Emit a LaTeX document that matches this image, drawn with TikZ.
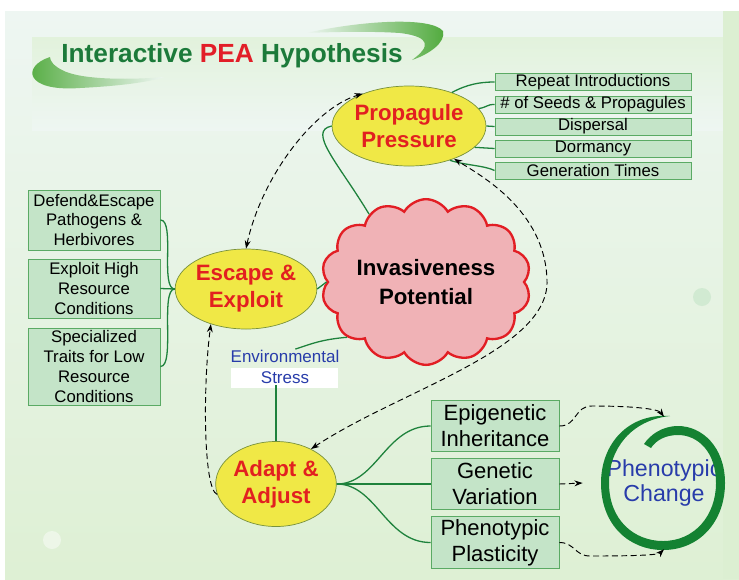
\documentclass[tikz,border=0pt]{standalone}
\usepackage{fontspec}
\setmainfont{Liberation Sans}
\usetikzlibrary{shapes.geometric,shapes.symbols,arrows.meta,positioning}

\definecolor{bgtop}{RGB}{238,246,242}
\definecolor{bgbot}{RGB}{222,240,212}
\definecolor{bgband}{RGB}{226,242,220}
\definecolor{bgstrip}{RGB}{220,239,210}
\definecolor{titlegreen}{RGB}{28,122,58}
\definecolor{titlered}{RGB}{226,30,40}
\definecolor{swoosh}{RGB}{80,170,60}
\definecolor{hubfill}{RGB}{240,232,70}
\definecolor{hubline}{RGB}{120,145,60}
\definecolor{hubtext}{RGB}{226,32,32}
\definecolor{leaffill}{RGB}{196,228,200}
\definecolor{leafline}{RGB}{90,170,100}
\definecolor{twig}{RGB}{30,130,60}
\definecolor{cloudfill}{RGB}{240,178,182}
\definecolor{cloudline}{RGB}{226,30,36}
\definecolor{bluetext}{RGB}{40,60,170}
\definecolor{swirl}{RGB}{20,130,50}

\begin{document}
\begin{tikzpicture}[x=0.03cm,y=-0.03cm,>={Stealth[length=7pt,width=5pt]},
  hub/.style={ellipse,draw=hubline,fill=hubfill,line width=0.6pt,inner sep=0pt,
    text=hubtext,align=center,font=\bfseries\fontsize{19}{23}\selectfont},
  leaf/.style={rectangle,draw=leafline,fill=leaffill,line width=0.8pt,inner sep=0pt,align=center},
  toprow/.style={leaf,minimum width=5.88cm,minimum height=0.51cm,font=\fontsize{14.3}{16}\selectfont},
  leftcol/.style={leaf,minimum width=3.96cm,font=\fontsize{14.3}{17}\selectfont},
  rightcol/.style={leaf,minimum width=3.84cm,minimum height=1.54cm,font=\fontsize{18.8}{22}\selectfont},
  link/.style={draw=twig,line width=1.1pt},
  hint/.style={dash pattern=on 5pt off 3pt,line width=0.8pt}]
\useasboundingbox (0,0) rectangle (739,579);

% backdrop
\fill[white] (0,0) rectangle (739,579);
\shade[top color=bgtop,bottom color=bgbot] (5,11) rectangle (739,579);
\shade[top color=bgband,bottom color=bgtop] (32,37) rectangle (723,130);
\fill[bgstrip] (723,11) rectangle (739,579);
\fill[white,opacity=0.45] (47,297) circle (8);
\fill[white,opacity=0.45] (52,540) circle (9);
\fill[leaffill,opacity=0.6] (702,297) circle (9);

% swooshes round the title
\shade[left color=swoosh,right color=bgtop] (50,57) .. controls (22,66) and (24,92) .. (80,88)
  .. controls (120,86) and (150,82) .. (164,77) .. controls (130,80) and (80,80) .. (62,70)
  .. controls (54,66) and (50,61) .. (50,57) -- cycle;
\shade[left color=bgtop,right color=swoosh] (306,33) .. controls (360,21) and (430,16) .. (443,31)
  .. controls (446,42) and (430,54) .. (412,60) .. controls (430,47) and (432,37) .. (400,33)
  .. controls (370,31) and (330,32) .. (306,33) -- cycle;
\node[font=\bfseries\fontsize{22.4}{26}\selectfont,text=titlegreen] (title) at (232,56)
  {Interactive {\color{titlered}PEA} Hypothesis};

% main hubs
\node[hub,minimum width=4.32cm,minimum height=2.4cm] (pp) at (409,126) {Propagule\\Pressure};
\node[hub,minimum width=3.81cm,minimum height=2.4cm] (ee) at (246,289) {Escape \&\\Exploit};
\node[hub,minimum width=3.51cm,minimum height=2.55cm] (aa) at (276,484) {Adapt \&\\Adjust};
\node[cloud,cloud puffs=14,cloud puff arc=120,aspect=1.36,draw=cloudline,fill=cloudfill,
  line width=2pt,inner sep=0pt,minimum width=5.55cm,minimum height=4.05cm,align=center,
  font=\bfseries\fontsize{19}{24}\selectfont] (ip) at (426,282) {Invasiveness\\Potential};

% propagule pressure factors
\node[toprow] (intro) at (593,82) {Repeat Introductions};
\node[toprow] (seeds) at (593,104.5) {\# of Seeds \& Propagules};
\node[toprow] (disp) at (593,126.5) {Dispersal};
\node[toprow] (dorm) at (593,148.5) {Dormancy};
\node[toprow] (gen) at (593,170.5) {Generation Times};

% escape and exploit factors
\node[leftcol,minimum height=1.8cm] (defend) at (94,220) {Defend\&Escape\\Pathogens \&\\Herbivores};
\node[leftcol,minimum height=1.77cm] (high) at (94,288.5) {Exploit High\\Resource\\Conditions};
\node[leftcol,minimum height=2.31cm] (low) at (94,366.5) {Specialized\\Traits for Low\\Resource\\Conditions};

% adapt and adjust factors
\node[rightcol] (epi) at (495,426) {Epigenetic\\Inheritance};
\node[rightcol] (genv) at (495,484) {Genetic\\Variation};
\node[rightcol] (plast) at (495,542.5) {Phenotypic\\Plasticity};

% environmental stress label
\fill[white] (231,368) rectangle (338,388);
\node[text=bluetext,align=center,font=\fontsize{14.5}{17.5}\selectfont,inner sep=1pt] (es) at (285,367)
  {Environmental\\Stress};

% phenotypic change and its swirl
\node[ellipse,minimum width=3.66cm,minimum height=3.96cm,inner sep=0pt,text=bluetext,
  align=center,font=\fontsize{19.8}{22}\selectfont] (ph) at (664,483) {Phenotypic\\Change};
\fill[swirl] (670,416) .. controls (628,413) and (601,444) .. (601,483)
  .. controls (601,526) and (630,550) .. (663,550) .. controls (700,550) and (725,521) .. (725,483)
  .. controls (725,447) and (702,426) .. (678,426) .. controls (662,426) and (650,435) .. (644,444)
  -- (651,448) .. controls (656,440) and (666,435) .. (678,435)
  .. controls (698,435) and (716,452) .. (716,483) .. controls (716,515) and (695,541) .. (663,541)
  .. controls (634,541) and (609,520) .. (609,483) .. controls (609,448) and (632,420) .. (670,416) -- cycle;

% green links
\draw[link] (pp.38) .. controls +(15,-8) and +(-15,0) .. (intro.west);
\draw[link] (pp.14) .. controls +(10,-2) and +(-8,0) .. (seeds.west);
\draw[link] (pp.east) -- (disp.west);
\draw[link] (pp.-18) .. controls +(10,1) and +(-10,0) .. (dorm.west);
\draw[link] (pp.-40) .. controls +(15,5) and +(-10,-5) .. (gen.west);
\draw[link] (pp.west) .. controls +(-25,5) and +(-30,-50) .. (ip.130);
\draw[link] (defend.east) .. controls +(15,0) and +(-15,0) .. (ee.west);
\draw[link] (high.east) -- (ee.west);
\draw[link] (low.east) .. controls +(15,0) and +(-15,0) .. (ee.west);
\draw[link] (ee.east) -- (ip.west);
\draw[link] (ip.215) .. controls +(-25,2) and +(15,-5) .. (es.60);
\draw[link] (aa.north |- es.south) -- (aa.north);
\draw[link] (aa.east) .. controls +(40,0) and +(-45,0) .. (epi.west);
\draw[link] (aa.east) -- (genv.west);
\draw[link] (aa.east) .. controls +(40,0) and +(-45,0) .. (plast.west);

% dashed influences
\draw[<->,hint] (ee.north) .. controls +(15,-70) and +(-50,15) .. (pp.145);
\draw[<->,hint] (aa.45) .. controls (400,390) and (550,350) .. (547,280)
  .. controls (545,210) and (480,175) .. (pp.-36);
\draw[->,hint] (aa.190) .. controls +(-14,-5) and +(-8,60) .. (ee.225);
\draw[->,hint] (epi.east) .. controls +(18,0) and +(-18,0) .. (592,406) .. controls +(40,0) and +(-6,-8) .. (ph.north);
\draw[->,hint] (genv.east) -- (ph.west);
\draw[->,hint] (plast.east) .. controls +(15,0) and +(-15,0) .. (590,556) .. controls +(40,0) and +(-6,6) .. (ph.south);
\end{tikzpicture}
\end{document}
